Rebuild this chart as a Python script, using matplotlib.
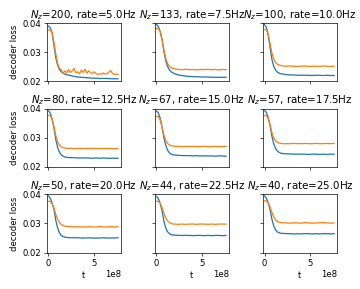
import numpy as np
import matplotlib
matplotlib.use("Agg")
import matplotlib.pyplot as plt

# panel titles
n_z = [200, 133, 100, 80, 67, 57, 50, 44, 40]
rates = [5.0, 7.5, 10.0, 12.5, 15.0, 17.5, 20.0, 22.5, 25.0]

# time grid, units of 1e8
t = [0.0, 0.2, 0.4, 0.6, 0.8, 1.0, 1.2, 1.4, 1.6, 1.8, 2.0, 2.4, 2.8, 3.2, 3.6,
     4.0, 4.4, 4.8, 5.2, 5.6, 6.0, 6.4, 6.8, 7.2, 7.6]
# finer grid for the noisy first panel
t_fine = [0.0, 0.2, 0.4, 0.6, 0.8, 1.0, 1.2, 1.4, 1.6, 1.8, 2.0, 2.2, 2.4, 2.6,
          2.8, 3.0, 3.2, 3.4, 3.6, 3.8, 4.0, 4.2, 4.4, 4.6, 4.8, 5.0, 5.2, 5.4,
          5.6, 5.8, 6.0, 6.2, 6.4, 6.6, 6.8, 7.0, 7.2, 7.4, 7.6]

blue = [
    [0.0390, 0.0384, 0.0368, 0.0325, 0.0282, 0.0256, 0.0241, 0.0233, 0.0228, 0.0225, 0.0223, 0.0220, 0.0217,
     0.0215, 0.0214, 0.0213, 0.0212, 0.0211, 0.0211, 0.0210, 0.0210, 0.0210, 0.0209, 0.0209, 0.0209],
    [0.0395, 0.0388, 0.0372, 0.0345, 0.0305, 0.0272, 0.0252, 0.0240, 0.0233, 0.0229, 0.0226, 0.0222, 0.0220,
     0.0218, 0.0217, 0.0216, 0.0216, 0.0215, 0.0215, 0.0215, 0.0214, 0.0214, 0.0214, 0.0214, 0.0214],
    [0.0395, 0.0385, 0.0358, 0.0318, 0.0276, 0.0252, 0.0239, 0.0232, 0.0228, 0.0226, 0.0225, 0.0223, 0.0222,
     0.0222, 0.0221, 0.0221, 0.0221, 0.0221, 0.0220, 0.0221, 0.0221, 0.0220, 0.0221, 0.0220, 0.0220],
    [0.0393, 0.0385, 0.0365, 0.0335, 0.0295, 0.0268, 0.0251, 0.0242, 0.0237, 0.0234, 0.0233, 0.0232, 0.0232,
     0.0231, 0.0231, 0.0231, 0.0231, 0.0230, 0.0231, 0.0230, 0.0231, 0.0230, 0.0230, 0.0230, 0.0230],
    [0.0392, 0.0386, 0.0368, 0.0340, 0.0302, 0.0276, 0.0258, 0.0249, 0.0244, 0.0242, 0.0241, 0.0240, 0.0239,
     0.0239, 0.0239, 0.0238, 0.0239, 0.0238, 0.0238, 0.0238, 0.0238, 0.0237, 0.0238, 0.0238, 0.0237],
    [0.0394, 0.0387, 0.0370, 0.0343, 0.0306, 0.0280, 0.0264, 0.0255, 0.0250, 0.0247, 0.0246, 0.0245, 0.0245,
     0.0244, 0.0244, 0.0244, 0.0244, 0.0243, 0.0244, 0.0244, 0.0243, 0.0244, 0.0243, 0.0244, 0.0244],
    [0.0395, 0.0387, 0.0371, 0.0350, 0.0312, 0.0285, 0.0268, 0.0259, 0.0255, 0.0253, 0.0252, 0.0251, 0.0251,
     0.0251, 0.0250, 0.0250, 0.0251, 0.0250, 0.0250, 0.0250, 0.0251, 0.0250, 0.0250, 0.0250, 0.0251],
    [0.0393, 0.0386, 0.0369, 0.0345, 0.0310, 0.0286, 0.0272, 0.0265, 0.0262, 0.0260, 0.0260, 0.0259, 0.0259,
     0.0259, 0.0259, 0.0258, 0.0259, 0.0259, 0.0258, 0.0259, 0.0258, 0.0259, 0.0259, 0.0258, 0.0259],
    [0.0395, 0.0387, 0.0371, 0.0348, 0.0315, 0.0292, 0.0278, 0.0271, 0.0268, 0.0266, 0.0266, 0.0265, 0.0265,
     0.0264, 0.0265, 0.0264, 0.0265, 0.0265, 0.0264, 0.0265, 0.0264, 0.0265, 0.0265, 0.0264, 0.0265],
]

orange_noisy = [0.0377, 0.0376, 0.0368, 0.0335, 0.0295, 0.0262, 0.0245, 0.0240, 0.0228, 0.0236, 0.0229,
                0.0241, 0.0230, 0.0236, 0.0244, 0.0229, 0.0233, 0.0226, 0.0238, 0.0231, 0.0242, 0.0228,
                0.0236, 0.0230, 0.0226, 0.0233, 0.0227, 0.0224, 0.0226, 0.0225, 0.0229, 0.0225, 0.0226,
                0.0231, 0.0237, 0.0227, 0.0224, 0.0225, 0.0224]

orange = [
    None,
    [0.0382, 0.0381, 0.0372, 0.0345, 0.0310, 0.0280, 0.0262, 0.0252, 0.0247, 0.0244, 0.0243, 0.0241, 0.0240,
     0.0242, 0.0240, 0.0241, 0.0239, 0.0241, 0.0240, 0.0242, 0.0240, 0.0241, 0.0239, 0.0241, 0.0240],
    [0.0378, 0.0377, 0.0362, 0.0330, 0.0298, 0.0277, 0.0265, 0.0259, 0.0256, 0.0254, 0.0253, 0.0252, 0.0253,
     0.0252, 0.0251, 0.0252, 0.0253, 0.0251, 0.0252, 0.0252, 0.0251, 0.0253, 0.0252, 0.0251, 0.0252],
    [0.0377, 0.0376, 0.0365, 0.0340, 0.0308, 0.0286, 0.0275, 0.0269, 0.0266, 0.0265, 0.0264, 0.0264, 0.0263,
     0.0264, 0.0264, 0.0263, 0.0264, 0.0263, 0.0264, 0.0263, 0.0263, 0.0264, 0.0263, 0.0263, 0.0263],
    [0.0374, 0.0373, 0.0362, 0.0338, 0.0310, 0.0292, 0.0281, 0.0276, 0.0273, 0.0272, 0.0271, 0.0271, 0.0270,
     0.0271, 0.0270, 0.0271, 0.0270, 0.0270, 0.0271, 0.0270, 0.0270, 0.0271, 0.0270, 0.0270, 0.0271],
    [0.0377, 0.0376, 0.0367, 0.0345, 0.0318, 0.0300, 0.0290, 0.0285, 0.0282, 0.0281, 0.0280, 0.0280, 0.0280,
     0.0281, 0.0280, 0.0280, 0.0281, 0.0280, 0.0280, 0.0281, 0.0280, 0.0280, 0.0281, 0.0280, 0.0281],
    [0.0376, 0.0376, 0.0368, 0.0352, 0.0332, 0.0315, 0.0303, 0.0297, 0.0293, 0.0291, 0.0290, 0.0289, 0.0288,
     0.0289, 0.0288, 0.0288, 0.0289, 0.0288, 0.0288, 0.0289, 0.0288, 0.0288, 0.0289, 0.0288, 0.0289],
    [0.0376, 0.0376, 0.0370, 0.0355, 0.0336, 0.0320, 0.0309, 0.0303, 0.0300, 0.0298, 0.0298, 0.0297, 0.0298,
     0.0297, 0.0298, 0.0298, 0.0297, 0.0298, 0.0298, 0.0297, 0.0298, 0.0297, 0.0298, 0.0298, 0.0298],
    [0.0378, 0.0377, 0.0371, 0.0356, 0.0338, 0.0323, 0.0313, 0.0307, 0.0304, 0.0303, 0.0302, 0.0302, 0.0301,
     0.0302, 0.0302, 0.0301, 0.0303, 0.0302, 0.0301, 0.0302, 0.0302, 0.0303, 0.0302, 0.0301, 0.0302],
]

if __name__ == "__main__":
    dpi = 61.2  # 72 * 0.85, everything drawn a bit smaller
    fig, axes = plt.subplots(3, 3, sharex=True, sharey=True,
                             figsize=(360 / dpi, 289 / dpi), dpi=dpi)
    fig.subplots_adjust(left=0.130, right=0.936, top=0.920, bottom=0.126,
                        wspace=0.46, hspace=0.47)
    tt = np.array(t) * 1e8
    for i, ax in enumerate(axes.flat):
        ax.plot(tt, blue[i], color="C0")
        if i == 0:
            ax.plot(np.array(t_fine) * 1e8, orange_noisy, color="C1")
        else:
            ax.plot(tt, orange[i], color="C1")
        ax.set_title(r"$N_z$=%d, rate=%.1fHz" % (n_z[i], rates[i]))
        if i % 3 == 0:
            ax.set_ylabel("decoder loss")
        if i >= 6:
            ax.set_xlabel("t")
    ax = axes[0, 0]
    ax.set_ylim(0.02, 0.04)
    ax.set_yticks([0.02, 0.03, 0.04])
    ax.set_xlim(-0.175e8, 7.91e8)
    ax.set_xticks([0, 5e8])
    fig.savefig("out.png", dpi=dpi)
